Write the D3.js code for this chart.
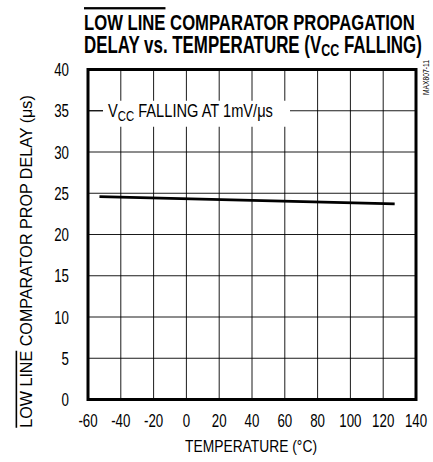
<!DOCTYPE html>
<html>
<head>
<meta charset="utf-8">
<script src="https://cdn.jsdelivr.net/npm/d3@7"></script>
<style>
  body { margin: 0; background: #fff; }
  text { font-family: "Liberation Sans", Arial, sans-serif; fill: #000; }
</style>
</head>
<body>
<div id="chart"></div>
<script>
const width = 433;
const height = 462;
const margin = { top: 69.5, right: 17, bottom: 62.5, left: 88 };

const xTicks = [-60, -40, -20, 0, 20, 40, 60, 80, 100, 120, 140];
const yTicks = [0, 5, 10, 15, 20, 25, 30, 35, 40];
const tempC = [-53, 127];
const delayUs = [24.6, 23.7];

const svg = d3.select("#chart").append("svg")
  .attr("width", width)
  .attr("height", height);

const x = d3.scaleLinear().domain([-60, 140]).range([margin.left, width - margin.right]);
const y = d3.scaleLinear().domain([0, 40]).range([height - margin.bottom, margin.top]);

// squeeze a text horizontally, condensed-font look
function squeeze(sel, tx, ty, k, rot) {
  sel.attr("transform", `translate(${tx},${ty})` + (rot ? ` rotate(${rot})` : "") + ` scale(${k},1)`);
}
function fitTo(sel, tx, ty, w, rot) {
  const bw = sel.node().getBBox().width;
  squeeze(sel, tx, ty, w / bw, rot);
}

// grid
svg.append("g").selectAll("line")
  .data(xTicks.slice(1, -1))
  .join("line")
  .attr("x1", d => x(d)).attr("x2", d => x(d))
  .attr("y1", y(0)).attr("y2", y(40))
  .attr("stroke", "#000").attr("stroke-width", 0.9);

svg.append("g").selectAll("line")
  .data(yTicks.slice(1, -1))
  .join("line")
  .attr("x1", x(-60)).attr("x2", x(140))
  .attr("y1", d => y(d)).attr("y2", d => y(d))
  .attr("stroke", "#000").attr("stroke-width", 0.9);

// annotation label with white box
const ann = svg.append("g");
ann.append("rect")
  .attr("x", x(-60) + 15).attr("y", y(35) - 10)
  .attr("width", 187).attr("height", 26)
  .attr("fill", "#fff");
ann.append("line")
  .attr("x1", x(-60)).attr("x2", x(-60) + 15)
  .attr("y1", y(35)).attr("y2", y(35))
  .attr("stroke", "#000").attr("stroke-width", 0.9);
const annText = ann.append("text").attr("font-size", 18);
annText.append("tspan").text("V");
annText.append("tspan").attr("font-size", 14).attr("dy", 4).text("CC");
annText.append("tspan").attr("dy", -4).text(" FALLING AT 1mV/μs");
fitTo(annText, 108, y(35) + 6.5, 165);

// frame
svg.append("rect")
  .attr("x", x(-60)).attr("y", y(40))
  .attr("width", x(140) - x(-60)).attr("height", y(0) - y(40))
  .attr("fill", "none").attr("stroke", "#000").attr("stroke-width", 3);

// data line
svg.append("path")
  .datum(tempC.map((t, i) => [t, delayUs[i]]))
  .attr("d", d3.line().x(d => x(d[0])).y(d => y(d[1])))
  .attr("fill", "none").attr("stroke", "#000").attr("stroke-width", 2.8);

// tick labels
svg.append("g").selectAll("text")
  .data(yTicks)
  .join("text")
  .attr("text-anchor", "end").attr("font-size", 18)
  .text(d => d)
  .each(function(d) { squeeze(d3.select(this), 69, y(d) + 6.5, 0.74); });

svg.append("g").selectAll("text")
  .data(xTicks)
  .join("text")
  .attr("text-anchor", "middle").attr("font-size", 18)
  .text(d => d)
  .each(function(d) { squeeze(d3.select(this), x(d), 427, 0.74); });

// axis titles
const xTitle = svg.append("text")
  .attr("text-anchor", "middle").attr("font-size", 16.5)
  .text("TEMPERATURE (°C)");
fitTo(xTitle, 251, 452, 132);

const yTitle = svg.append("text")
  .attr("text-anchor", "middle").attr("font-size", 16);
yTitle.append("tspan").attr("text-decoration", "overline").text("LOW LINE");
yTitle.append("tspan").text(" COMPARATOR PROP DELAY (μs)");
fitTo(yTitle, 31.5, 261.5, 333, -90);

// title
const t1 = svg.append("text")
  .attr("font-size", 23).attr("font-weight", "bold");
t1.append("tspan").attr("text-decoration", "overline").text("LOW LINE");
t1.append("tspan").text(" COMPARATOR PROPAGATION");
fitTo(t1, 84, 30, 331);

const t2 = svg.append("text")
  .attr("font-size", 23).attr("font-weight", "bold");
t2.append("tspan").text("DELAY vs. TEMPERATURE (V");
t2.append("tspan").attr("font-size", 17).attr("dy", 3).text("CC");
t2.append("tspan").attr("dy", -3).text(" FALLING)");
fitTo(t2, 84, 53, 338);

const code = svg.append("text")
  .attr("text-anchor", "end").attr("font-size", 9)
  .text("MAX807-11");
fitTo(code, 429, 60, 35, -90);
</script>
</body>
</html>
